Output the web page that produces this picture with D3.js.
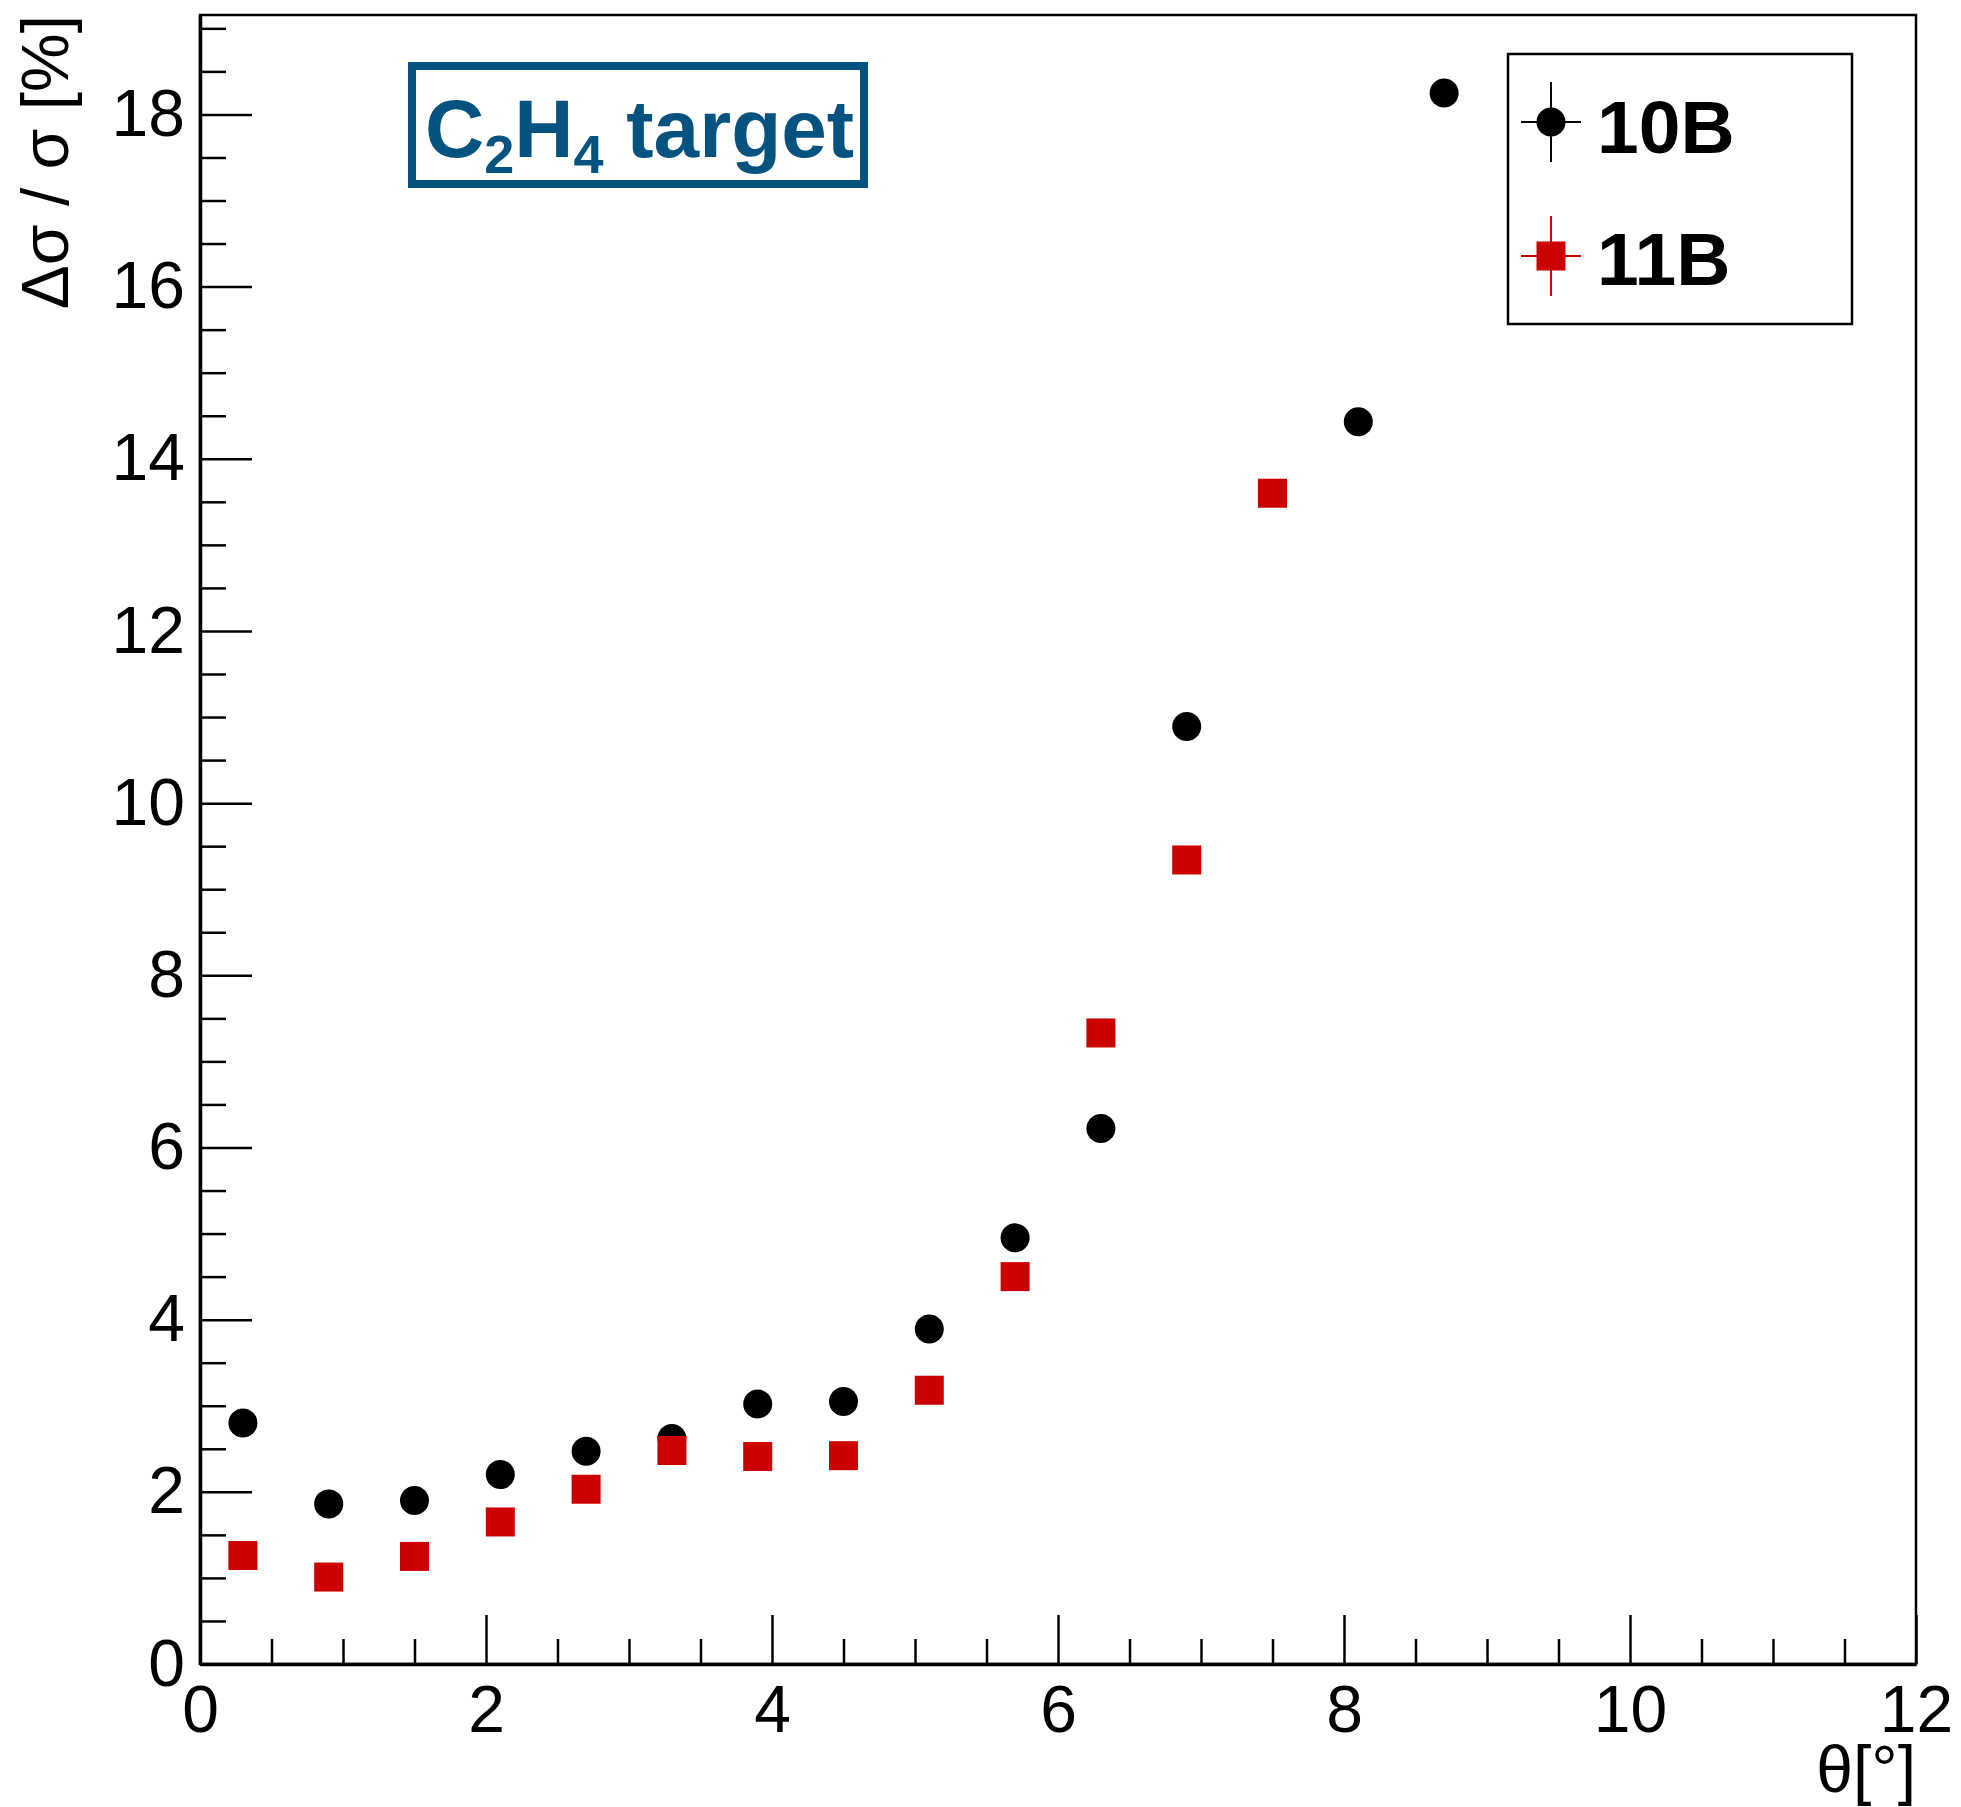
<!DOCTYPE html>
<html>
<head>
<meta charset="utf-8">
<script src="https://cdn.jsdelivr.net/npm/d3@7"></script>
<style>
  body { margin: 0; background: #fff; }
  text { font-family: "Liberation Sans", Arial, sans-serif; }
  .axis text { font-size: 66px; fill: #000; }
  .axis line { stroke: #000; stroke-width: 2.5; }
  .axis path { stroke: #000; stroke-width: 3.5; }
</style>
</head>
<body>
<svg id="chart"></svg>
<script>
// data
const theta10B = [0.3, 0.9, 1.5, 2.1, 2.7, 3.3, 3.9, 4.5, 5.1, 5.7, 6.3, 6.9, 8.1, 8.7];
const rel10B   = [2.80, 1.86, 1.90, 2.20, 2.47, 2.62, 3.02, 3.05, 3.89, 4.95, 6.22, 10.89, 14.43, 18.25];
const theta11B = [0.3, 0.9, 1.5, 2.1, 2.7, 3.3, 3.9, 4.5, 5.1, 5.7, 6.3, 6.9, 7.5];
const rel11B   = [1.26, 1.01, 1.25, 1.65, 2.03, 2.48, 2.41, 2.42, 3.18, 4.50, 7.33, 9.34, 13.60];

const xMajor = [0, 2, 4, 6, 8, 10, 12];
const yMajor = [0, 2, 4, 6, 8, 10, 12, 14, 16, 18];
const seriesNames = ['10B', '11B'];
const seriesColors = ['#000000', '#cc0000'];

const W = 1961, H = 1807;
const margin = {top: 15, right: 45, bottom: 143, left: 200};
const width = W - margin.left - margin.right;
const height = H - margin.top - margin.bottom;

const svg = d3.select('#chart').attr('width', W).attr('height', H);
const chart = svg.append('g').attr('transform', `translate(${margin.left},${margin.top})`);

const x = d3.scaleLinear().domain([0, 12]).range([0, width]);
const y = d3.scaleLinear().domain([0, 19.155]).range([height, 0]);

// frame
chart.append('rect')
  .attr('width', width).attr('height', height)
  .attr('fill', 'none').attr('stroke', '#000').attr('stroke-width', 2.5);

// minor ticks first, then the major ones with labels
const xMinor = d3.range(0, 12.01, 0.5).filter(v => v % 2 !== 0);
const yMinor = d3.range(0, 19.01, 0.5).filter(v => v % 2 !== 0);

chart.append('g').attr('class', 'axis')
  .attr('transform', `translate(0,${height})`)
  .call(d3.axisBottom(x).tickValues(xMinor).tickSize(-25).tickFormat(''))
  .call(g => g.select('.domain').remove());

chart.append('g').attr('class', 'axis')
  .call(d3.axisLeft(y).tickValues(yMinor).tickSize(-26).tickFormat(''))
  .call(g => g.select('.domain').remove());

chart.append('g').attr('class', 'axis x-axis')
  .attr('transform', `translate(0,${height})`)
  .call(d3.axisBottom(x).tickValues(xMajor).tickSizeInner(-49).tickSizeOuter(0).tickPadding(21));

chart.append('g').attr('class', 'axis y-axis')
  .call(d3.axisLeft(y).tickValues(yMajor).tickSizeInner(-52).tickSizeOuter(0).tickPadding(15));

// axis titles
chart.append('text')
  .attr('x', width)
  .attr('y', height + 128)
  .attr('text-anchor', 'end')
  .style('font-size', '66px')
  .text('θ[°]');

chart.append('text')
  .attr('transform', `translate(${68 - margin.left},0) rotate(-90)`)
  .attr('text-anchor', 'end')
  .style('font-size', '66px')
  .text('Δσ / σ [%]');

// markers
const pts11 = theta11B.map((t, i) => ({t: t, v: rel11B[i]}));
const pts10 = theta10B.map((t, i) => ({t: t, v: rel10B[i]}));
const half = 14.5;

chart.selectAll('.pt10')
  .data(pts10)
  .join('circle')
  .attr('class', 'pt10')
  .attr('cx', d => x(d.t))
  .attr('cy', d => y(d.v))
  .attr('r', half)
  .attr('fill', seriesColors[0]);

chart.selectAll('.pt11')
  .data(pts11)
  .join('rect')
  .attr('class', 'pt11')
  .attr('x', d => x(d.t) - half)
  .attr('y', d => y(d.v) - half)
  .attr('width', 2 * half)
  .attr('height', 2 * half)
  .attr('fill', seriesColors[1]);

// label box
const lab = svg.append('g');
lab.append('rect')
  .attr('x', 412).attr('y', 66).attr('width', 452).attr('height', 118)
  .attr('fill', '#fff').attr('stroke', '#04527f').attr('stroke-width', 8);
const labText = lab.append('text')
  .attr('x', 425).attr('y', 157)
  .attr('fill', '#04527f')
  .style('font-size', '82px').style('font-weight', 'bold');
labText.append('tspan').text('C');
labText.append('tspan').attr('dy', 16).style('font-size', '54px').text('2');
labText.append('tspan').attr('dy', -16).text('H');
labText.append('tspan').attr('dy', 16).style('font-size', '54px').text('4');
labText.append('tspan').attr('dy', -16).text(' target');

// legend
const legend = svg.append('g');
legend.append('rect')
  .attr('x', 1508).attr('y', 54).attr('width', 344).attr('height', 270)
  .attr('fill', '#fff').attr('stroke', '#000').attr('stroke-width', 2.5);

const rowY = [122, 256];
const baseY = [153, 285];
seriesNames.forEach((name, i) => {
  const g = legend.append('g');
  const cx = 1551, cy = rowY[i];
  g.append('line').attr('x1', cx - 30).attr('x2', cx + 30).attr('y1', cy).attr('y2', cy)
    .attr('stroke', seriesColors[i]).attr('stroke-width', 2);
  g.append('line').attr('x1', cx).attr('x2', cx).attr('y1', cy - 40).attr('y2', cy + 40)
    .attr('stroke', seriesColors[i]).attr('stroke-width', 2);
  if (i === 0) {
    g.append('circle').attr('cx', cx).attr('cy', cy).attr('r', half).attr('fill', seriesColors[i]);
  } else {
    g.append('rect').attr('x', cx - half).attr('y', cy - half)
      .attr('width', 2 * half).attr('height', 2 * half).attr('fill', seriesColors[i]);
  }
  g.append('text')
    .attr('x', 1597).attr('y', baseY[i])
    .style('font-size', '75px').style('font-weight', 'bold')
    .text(name);
});
</script>
</body>
</html>
